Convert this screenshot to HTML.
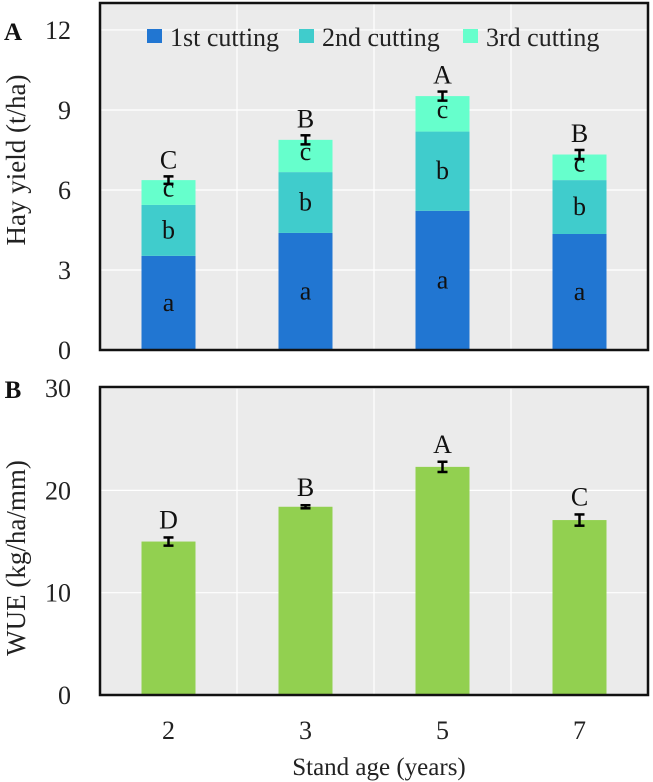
<!DOCTYPE html>
<html><head><meta charset="utf-8"><style>
html,body{margin:0;padding:0;background:#fff}
svg{display:block;font-family:"Liberation Serif",serif}
</style></head><body>
<svg id="c" width="653" height="782" xmlns="http://www.w3.org/2000/svg"></svg>
<script>
const categories=["2","3","5","7"];
const cut1=[3.53,4.39,5.22,4.35];
const cut2=[1.91,2.28,2.97,2.02];
const cut3=[0.93,1.21,1.33,0.96];
const yieldErr=[0.14,0.17,0.17,0.17];
const yieldLetters=["C","B","A","B"];
const wue=[15.0,18.4,22.3,17.1];
const wueErr=[0.4,0.15,0.5,0.55];
const wueLetters=["D","B","A","C"];
const yTicksA=[0,3,6,9,12];
const yTicksB=[0,10,20,30];
const legendLabels=["1st cutting","2nd cutting","3rd cutting"];

const NS="http://www.w3.org/2000/svg";
const svg=document.getElementById('c');
function mk(t,a,p){const e=document.createElementNS(NS,t);for(const k in a)e.setAttribute(k,a[k]);(p||svg).appendChild(e);return e;}
const L=100,R=648,band=(R-L)/categories.length,bw=54;
const xc=i=>L+band*(i+0.5);
const yA=v=>350-v*26.67;
const yB=v=>695-v*10.23;
const colors=["#2176d2","#40cccc","#66ffcc"];

function panel(top,bottom,ticks,ys,name){
  const bg=mk('rect',{x:L,y:top,width:R-L,height:bottom-top,fill:'#ebebeb'});
  
  ticks.forEach(t=>{
    const g=mk('line',{x1:L,x2:R,y1:ys(t),y2:ys(t),stroke:'#fff','stroke-width':1.2});
    
    const tx=mk('text',{x:71,y:ys(t)+9,'text-anchor':'end','font-size':26,fill:'#222'});
    tx.textContent=t;
    
  });
  for(let i=1;i<categories.length;i++){
    const g=mk('line',{x1:L+band*i,x2:L+band*i,y1:top,y2:bottom,stroke:'#fff','stroke-width':1.2});
    
  }
}
function frame(top,bottom,name){
  const f=mk('rect',{x:L,y:top,width:R-L,height:bottom-top,fill:'none',stroke:'#111','stroke-width':2.5});
  
}
function errbar(x,y1,y2,name){
  const g=mk('g',{stroke:'#000','stroke-width':2.5});
  
  mk('line',{x1:x,x2:x,y1:y1,y2:y2},g);
  mk('line',{x1:x-5,x2:x+5,y1:y1,y2:y1},g);
  mk('line',{x1:x-5,x2:x+5,y1:y2,y2:y2},g);
}
function txt(x,y,s,size,name,extra){
  const t=mk('text',Object.assign({x:x,y:y,'text-anchor':'middle','font-size':size,fill:'#111'},extra||{}));
  t.textContent=s;return t;
}

// Panel A
panel(3,350,yTicksA,yA,'yield');
const segLetters=["a","b","c"];
categories.forEach((c,i)=>{
  const segs=[cut1[i],cut2[i],cut3[i]];let base=0;
  segs.forEach((v,s)=>{
    const r=mk('rect',{x:xc(i)-bw/2,y:yA(base+v),width:bw,height:yA(base)-yA(base+v),fill:colors[s]});
    
    const mid=(yA(base)+yA(base+v))/2;
    txt(xc(i),mid+(s==2?4:8),segLetters[s],26,'segment-letter');
    base+=v;
  });
  errbar(xc(i),yA(base+yieldErr[i]),yA(base-yieldErr[i]),'yield-error-bar');
  txt(xc(i),yA(base+yieldErr[i])-8,yieldLetters[i],26,'yield-group-letter');
});
frame(3,350,'yield');
// legend
const lx=[147,299,463],tx=[170,322,486];
legendLabels.forEach((l,i)=>{
  const g=mk('g',{});
  mk('rect',{x:lx[i],y:29,width:15,height:14,fill:colors[i]},g);
  const t=mk('text',{x:tx[i],y:46,'font-size':26,fill:'#222'},g);t.textContent=l;
});
txt(13,40,"A",25,'panel-label-a',{'font-weight':'bold'});
txt(25,160,"Hay yield (t/ha)",27,'y-axis-title-yield',{transform:'rotate(-90 25 160)',fill:'#222'});

// Panel B
panel(387,695,yTicksB,yB,'wue');
categories.forEach((c,i)=>{
  const r=mk('rect',{x:xc(i)-bw/2,y:yB(wue[i]),width:bw,height:yB(0)-yB(wue[i]),fill:'#92d050'});
  
  errbar(xc(i),yB(wue[i]+wueErr[i]),yB(wue[i]-wueErr[i]),'wue-error-bar');
  txt(xc(i),yB(wue[i]+wueErr[i])-9,wueLetters[i],26,'wue-group-letter');
  txt(xc(i),739,c,26,'x-tick-label',{fill:'#222'});
});
frame(387,695,'wue');
txt(13,398,"B",25,'panel-label-b',{'font-weight':'bold'});
txt(25,558,"WUE (kg/ha/mm)",27,'y-axis-title-wue',{transform:'rotate(-90 25 558)',fill:'#222'});
txt(379,775,"Stand age (years)",25,'x-axis-title',{fill:'#222'});
</script>
</body></html>
